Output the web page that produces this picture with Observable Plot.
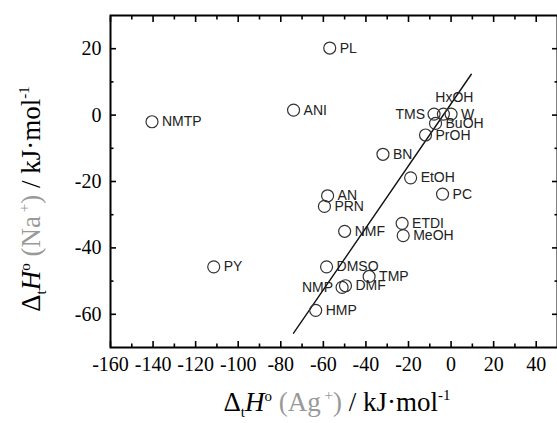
<!DOCTYPE html>
<html><head><meta charset="utf-8">
<script src="https://cdn.jsdelivr.net/npm/d3@7"></script>
<script src="https://cdn.jsdelivr.net/npm/@observablehq/plot@0.6"></script>
<style>body{margin:0;background:#fff} svg{display:block}</style>
</head><body><div id="chart"></div>
<script>
// Data: transfer enthalpies ΔtH° (water → solvent)
const solvents = ["PL","ANI","NMTP","TMS","HxOH","W","BuOH","PrOH","BN","EtOH","PC","AN","PRN","NMF","ETDI","MeOH","PY","DMSO","TMP","NMP","DMF","HMP"];
const dHAg = [-57, -74, -140.5, -8, -3.6, 0, -7.3, -12, -32, -19, -4, -58, -59.5, -50, -23, -22.5, -111.5, -58.5, -38.5, -51.2, -49.6, -63.6];
const dHNa = [20.2, 1.5, -2.0, 0.3, 0.3, 0.3, -2.5, -6.0, -11.8, -18.9, -23.8, -24.3, -27.5, -35.0, -32.6, -36.3, -45.7, -45.7, -48.6, -51.9, -51.4, -58.8];
// fitted straight line end points
const fitAg = [-74, 9.5];
const fitNa = [-65.7, 12.3];
// axis ticks
const xMajor = [-160,-140,-120,-100,-80,-60,-40,-20,0,20,40];
const xMinor = [-150,-130,-110,-90,-70,-50,-30,-10,10,30];
const yMajor = [-60,-40,-20,0,20];
const yMinor = [-50,-30,-10,10];
// label placement groups
const leftLabelled = ["TMS","NMP"];
const aboveLabelled = ["HxOH"];

const pts = solvents.map((s,i)=>({s, x:dHAg[i], y:dHNa[i]}));
const fit = fitAg.map((x,i)=>({x, y:fitNa[i]}));
const right = pts.filter(d=>!leftLabelled.includes(d.s) && !aboveLabelled.includes(d.s));
const left = pts.filter(d=>leftLabelled.includes(d.s));
const above = pts.filter(d=>aboveLabelled.includes(d.s));

const fmt = d => String(d);
const labelFont = "Liberation Sans, Arial, sans-serif";
const tickCommon = {stroke:"#000", strokeWidth:1.6, label:null, tickFormat:()=>""};

const chart = Plot.plot({
  width:557, height:423,
  marginLeft:110, marginRight:0, marginTop:15, marginBottom:76,
  x:{domain:[-160,50]},
  y:{domain:[-70,30]},
  style:{fontFamily:"Liberation Serif, Times New Roman, serif", fontSize:"20px", color:"#000", background:"#fff"},
  marks:[
    Plot.line(fit, {x:"x", y:"y", stroke:"#111", strokeWidth:1.4}),
    Plot.dot(pts, {x:"x", y:"y", r:6, stroke:"#333", strokeWidth:1.2, fill:"none"}),
    Plot.text(right, {x:"x", y:"y", text:"s", dx:10, textAnchor:"start", fontSize:14, fontFamily:labelFont, fill:"#222"}),
    Plot.text(left, {x:"x", y:"y", text:"s", dx:-9, textAnchor:"end", fontSize:14, fontFamily:labelFont, fill:"#222"}),
    Plot.text(above, {x:"x", y:"y", text:"s", dx:11, dy:-17, textAnchor:"middle", fontSize:14, fontFamily:labelFont, fill:"#222"}),
    // tick labels
    Plot.axisX({anchor:"bottom", ticks:xMajor, tickSize:0, tickPadding:9, tickFormat:fmt, label:null, fontSize:20}),
    Plot.axisY({anchor:"left", ticks:yMajor, tickSize:0, tickPadding:9, tickFormat:fmt, label:null, fontSize:20}),
    // inward ticks
    Plot.axisX({anchor:"bottom", ticks:xMajor, tickSize:-6, ...tickCommon}),
    Plot.axisX({anchor:"bottom", ticks:xMinor, tickSize:-3.5, ...tickCommon}),
    Plot.axisX({anchor:"top", ticks:xMajor, tickSize:-6, ...tickCommon}),
    Plot.axisX({anchor:"top", ticks:xMinor, tickSize:-3.5, ...tickCommon}),
    Plot.axisY({anchor:"left", ticks:yMajor, tickSize:-6, ...tickCommon}),
    Plot.axisY({anchor:"left", ticks:yMinor, tickSize:-3.5, ...tickCommon}),
    Plot.axisY({anchor:"right", ticks:yMajor, tickSize:-6, ...tickCommon}),
    Plot.axisY({anchor:"right", ticks:yMinor, tickSize:-3.5, ...tickCommon}),
    Plot.frame({stroke:"#000", strokeWidth:2})
  ]
});
document.getElementById("chart").appendChild(chart);

// axis titles with sub/superscripts
const svg = d3.select(chart);
function title(g, ion){
  const t = g.append("text").attr("text-anchor","middle")
    .attr("font-family","Liberation Serif, Times New Roman, serif").attr("font-size",27).attr("fill","#000");
  t.append("tspan").text("Δ");
  t.append("tspan").attr("font-size",15).attr("dy",6).text("t");
  t.append("tspan").attr("font-style","italic").attr("dy",-6).text("H");
  t.append("tspan").attr("font-size",15).attr("dy",-10).text("o");
  t.append("tspan").attr("dy",10).attr("fill","#999").text(" (" + ion);
  t.append("tspan").attr("font-size",15).attr("dy",-11).attr("fill","#999").text(" +");
  t.append("tspan").attr("dy",11).attr("fill","#999").text(")");
  t.append("tspan").text(" / kJ·mol");
  t.append("tspan").attr("font-size",15).attr("dy",-11).text("-1");
  return t;
}
title(svg.append("g").attr("transform","translate(337,411)"), "Ag");
title(svg.append("g").attr("transform","translate(40,199) rotate(-90)"), "Na");
</script>
</body></html>
